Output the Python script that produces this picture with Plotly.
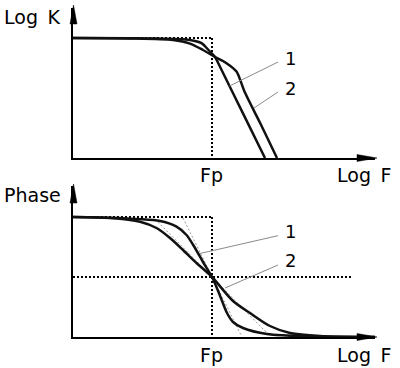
import plotly.graph_objects as go

# ---------------- data ----------------
FP = 2.78                      # position of Fp on the log F axis
X_MAX = 6.04                   # log F axis end

# magnitude panel (Log K)
k1_x = [0, 1.54, 2.34, 2.57, 2.71, 2.84, 2.94, 3.39, 3.84]
k1_y = [3.0, 2.99, 2.95, 2.87, 2.7, 2.525, 2.28, 1.14, 0]
k2_x = [0, 1.14, 2.0, 2.34, 2.6, 2.84, 3.07, 3.27, 3.35, 3.43, 3.76, 4.08]
k2_y = [3.0, 2.99, 2.95, 2.86, 2.7, 2.525, 2.37, 2.16, 1.93, 1.66, 0.83, 0]
K_TOP = 3.0
K_MAX = 3.75

# phase panel
p1_x = [0, 0.54, 1.74, 2.07, 2.27, 2.44, 2.6, 2.78, 2.94, 3.08, 3.2, 3.4, 3.88, 4.74, 6.04]
p1_y = [0, -0.75, -6, -14.5, -27, -46.5, -67.5, -90, -118, -144, -157.5, -166.5, -175.5, -179.25, -180]
p2_x = [0, 0.74, 1.34, 1.67, 1.94, 2.2, 2.47, 2.78, 3.2, 3.54, 3.94, 4.34, 4.94, 6.04]
p2_y = [0, -1.5, -7, -16.5, -31.5, -49.5, -69, -90, -126, -144, -163.5, -174, -178.5, -180]
P_MIN, P_MAX = -180, 46.5
P_MID_END = 5.58

# tangent (asymptote) lines in the phase panel
t1_x = [2.2, 3.36]
t1_y = [-1.5, -177]
t2_x = [1.7, 3.88]
t2_y = [-7.5, -174]

# leader lines for labels "1" and "2"
lk1_x, lk1_y = [4.1, 3.13], [2.4, 1.8]
lk2_x, lk2_y = [4.1, 3.62], [1.65, 1.25]
lp1_x, lp1_y = [4.1, 2.54], [-28, -54.75]
lp2_x, lp2_y = [4.1, 3.04], [-72, -106.5]

W, H = 400, 368
FONT = "DejaVu Sans"


def px(x):
    return x / W


def py(y):
    return 1 - y / H


fig = go.Figure()

CURVE = dict(color="#111111", width=2.5, shape="spline", smoothing=0.8)
DOT = dict(color="black", width=2, dash="2px,2px")
GRAYDOT = dict(color="#9a9a9a", width=1, dash="2px,2px")
LEAD = dict(color="#8a8a8a", width=1)


def add(x, y, line, xa="x", ya="y"):
    fig.add_trace(go.Scatter(x=x, y=y, mode="lines", line=line, xaxis=xa, yaxis=ya,
                             hoverinfo="skip", showlegend=False))


# --- top panel ---
add([0, FP], [K_TOP, K_TOP], DOT)
add([FP, FP], [K_TOP, 0], DOT)
add(k1_x, k1_y, CURVE)
add(k2_x, k2_y, CURVE)
add(lk1_x, lk1_y, LEAD)
add(lk2_x, lk2_y, LEAD)

# --- bottom panel ---
add([0, FP], [0, 0], DOT, "x2", "y2")
add([FP, FP], [0, P_MIN], DOT, "x2", "y2")
add([0, P_MID_END], [-90, -90], DOT, "x2", "y2")
add(t1_x, t1_y, GRAYDOT, "x2", "y2")
add(t2_x, t2_y, GRAYDOT, "x2", "y2")
add(p1_x, p1_y, CURVE, "x2", "y2")
add(p2_x, p2_y, CURVE, "x2", "y2")
add(lp1_x, lp1_y, LEAD, "x2", "y2")
add(lp2_x, lp2_y, LEAD, "x2", "y2")

X_DOM = [73 / W, 375 / W]
AX = dict(showline=True, linecolor="black", linewidth=2, showgrid=False, zeroline=False,
          showticklabels=False, ticks="", fixedrange=True)

fig.update_layout(
    width=W, height=H, margin=dict(l=0, r=0, t=0, b=0),
    paper_bgcolor="white", plot_bgcolor="white", showlegend=False,
    xaxis=dict(AX, domain=X_DOM, range=[0, X_MAX], anchor="y"),
    yaxis=dict(AX, domain=[py(158), py(8)], range=[0, K_MAX], anchor="x"),
    xaxis2=dict(AX, domain=X_DOM, range=[0, X_MAX], anchor="y2"),
    yaxis2=dict(AX, domain=[py(337), py(186)], range=[P_MIN, P_MAX], anchor="x2"),
)

# arrow heads on the axes
def tri(p1, p2, p3):
    return dict(type="path", xref="paper", yref="paper", layer="above",
                path=f"M{px(p1[0])},{py(p1[1])} L{px(p2[0])},{py(p2[1])} L{px(p3[0])},{py(p3[1])} Z",
                fillcolor="black", line=dict(color="black", width=0.5))

fig.add_shape(tri((73.5, 5), (70, 24), (77, 24)))
fig.add_shape(tri((73.5, 184), (70, 203), (77, 203)))
fig.add_shape(tri((377, 158), (357, 154.5), (357, 161.5)))
fig.add_shape(tri((377, 337), (357, 333.5), (357, 340.5)))

# texts
def txt(s, x, y, anchor="left", size=19):
    fig.add_annotation(text=s, x=px(x), y=py(y), xref="paper", yref="paper",
                       xanchor=anchor, yanchor="middle", showarrow=False,
                       font=dict(family=FONT, size=size, color="black"))

txt("Log\u2002K", 1.5, 17.5)
txt("Phase", 1.5, 195)
txt("Fp", 211, 175, "center")
txt("Fp", 211.5, 354.5, "center")
txt("Log\u2002F", 334.5, 174.5)
txt("Log\u2002F", 334.5, 354.5)
txt("1", 290, 58.5, "center", 18)
txt("2", 290.5, 88.5, "center", 18)
txt("1", 290, 231.5, "center", 18)
txt("2", 290.5, 260.5, "center", 18)

fig.write_html("out.html", config={"staticPlot": True},
               post_script="document.body.style.margin='0';document.body.style.overflow='hidden';")
